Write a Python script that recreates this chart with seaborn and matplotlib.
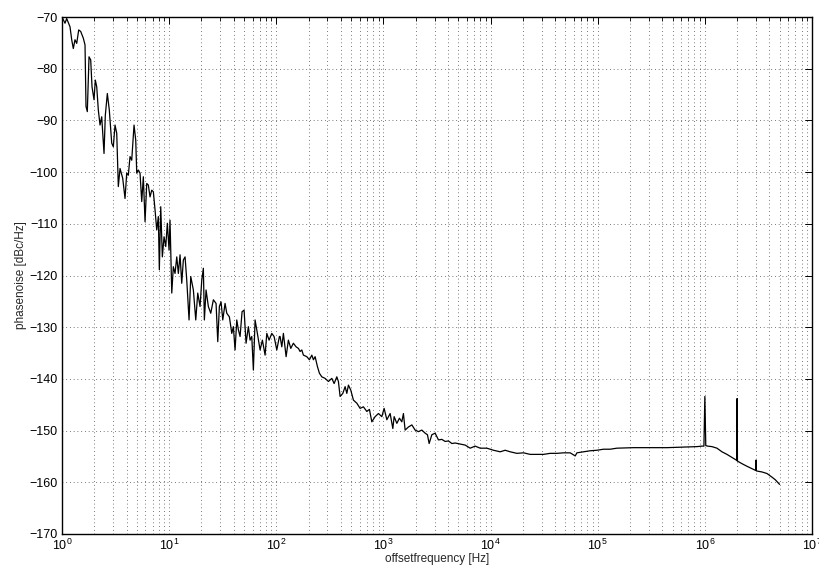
import numpy as np
import pandas as pd
import matplotlib
matplotlib.use("Agg")
import matplotlib.pyplot as plt
import seaborn as sns
from matplotlib.ticker import LogLocator, MultipleLocator, NullFormatter

# =========================
# Data
# =========================

# close-in part, 1 Hz .. ~110 Hz
freq_close = [1.0, 1.067, 1.106, 1.188, 1.232, 1.275, 1.322, 1.372, 1.432, 1.495,
              1.581, 1.640, 1.675, 1.723, 1.787, 1.853, 1.906, 1.990, 2.046, 2.109,
              2.183, 2.264, 2.348, 2.467, 2.537, 2.649, 2.764, 2.911, 3.013, 3.125,
              3.242, 3.355, 3.480, 3.687, 3.875, 4.019, 4.159, 4.314, 4.475, 4.702,
              4.877, 4.983, 5.158, 5.349, 5.549, 5.743, 5.957, 6.178, 6.394, 6.632,
              6.879, 7.121, 7.385, 7.660, 7.929, 8.10, 8.348, 8.64, 8.962, 9.296,
              9.62, 9.98, 10.19, 10.58, 10.94, 11.35, 11.78, 12.19, 12.64, 13.11,
              13.57, 14.08, 14.60, 15.34, 15.91, 16.83, 17.72, 18.49, 19.43, 20.16,
              20.86, 21.32, 22.11, 23.23, 24.46, 25.87, 27.41, 28.43, 29.43, 30.52,
              31.66, 33.27, 34.51, 36.49, 38.42, 39.76, 41.24, 42.78, 44.28, 45.92,
              47.94, 50.04, 52.24, 54.89, 56.93, 59.05, 61.12, 63.40, 66.61, 70.59,
              74.19, 78.62, 81.55, 85.67, 90.78, 95.39, 101.1, 106.9]
pn_close = [-70.0, -71.2, -70.3, -71.9, -74.4, -76.1, -74.4, -75.1, -72.5, -72.8,
            -74.1, -75.4, -87.3, -88.3, -77.7, -78.3, -83.5, -86.0, -82.2, -83.5,
            -88.0, -90.9, -89.3, -96.4, -89.0, -84.8, -88.0, -94.4, -95.1, -90.9,
            -92.5, -102.8, -99.3, -101.2, -105.1, -100.2, -100.6, -97.0, -97.7, -90.9,
            -93.8, -100.2, -99.6, -100.2, -105.7, -100.9, -109.6, -102.2, -102.5, -104.8,
            -103.5, -103.8, -107.3, -111.2, -108.6, -118.9, -106.7, -116.4, -112.5, -114.4,
            -109.9, -115.1, -109.3, -123.4, -118.3, -119.6, -116.4, -119.6, -116.0, -121.5,
            -117.0, -116.4, -120.9, -128.6, -120.2, -122.8, -128.6, -123.4, -126.0, -120.9,
            -118.6, -128.6, -122.8, -126.0, -127.3, -124.7, -125.4, -132.8, -126.0, -125.1,
            -128.6, -125.4, -127.3, -128.0, -131.2, -129.9, -134.4, -128.6, -130.5, -131.8,
            -127.0, -126.7, -133.1, -129.9, -132.5, -131.8, -138.3, -128.6, -131.2, -134.4,
            -132.5, -135.4, -131.2, -132.5, -131.2, -131.8, -134.4, -131.8]

# mid part, ~110 Hz .. 100 kHz
freq_mid = [108.5, 112.6, 116.5, 123.5, 129.7, 136.6, 144.4, 153.1, 160.9, 166.8,
            173.0, 179.1, 192.7, 203.8, 214.6, 222.1, 230.4, 242.0, 252.6, 266.0,
            285.5, 306.6, 329.8, 346.5, 367.2, 380.0, 394.2, 417.8, 439.0, 455.3,
            471.3, 496.2, 524.7, 564.4, 605.9, 650.6, 699.8, 740.0, 779.2, 836.5,
            898.3, 966.1, 1015, 1076, 1155, 1224, 1259, 1334, 1411, 1485,
            1537, 1594, 1712, 1842, 1977, 2123, 2283, 2452, 2575, 2671,
            2831, 3039, 3262, 3510, 3768, 4045, 4352, 4672, 5203, 5791,
            6449, 7182, 7998, 9236, 10644, 12291, 13689, 15241, 17605, 20289,
            23429, 27060, 31180, 36020, 41590, 47940, 55370, 61650, 63940, 73690,
            85110, 98290]
pn_mid = [-131.8, -133.8, -131.2, -135.7, -132.5, -134.1, -133.1, -133.8, -134.1, -134.7,
          -134.4, -135.4, -135.7, -136.3, -135.4, -136.3, -135.7, -137.6, -138.9, -139.6,
          -139.9, -140.5, -139.9, -140.9, -139.6, -140.5, -143.4, -142.8, -141.5, -142.8,
          -141.2, -142.2, -144.1, -144.7, -145.7, -145.4, -146.3, -145.9, -148.3, -147.3,
          -146.7, -147.3, -145.7, -147.9, -146.7, -149.6, -147.3, -148.6, -147.6, -148.3,
          -146.7, -149.9, -149.3, -148.9, -149.9, -150.2, -149.9, -150.5, -150.8, -152.5,
          -150.8, -150.5, -151.8, -151.7, -152.1, -152.0, -152.5, -152.4, -152.6, -152.8,
          -153.4, -153.0, -153.4, -153.4, -153.8, -154.1, -153.8, -154.1, -154.4, -154.3,
          -154.6, -154.6, -154.6, -154.4, -154.4, -154.3, -154.3, -154.9, -154.3, -154.1,
          -153.9, -153.8]

# far part, 100 kHz .. 5 MHz (with spurs at 1, 2 and 3 MHz)
freq_far = [113300, 130800, 151100, 216000, 309200, 442700, 632600, 843700, 939500, 980000,
            1000000, 1020000, 1060000, 1165000, 1297000, 1444000, 1608000, 1791000, 1965000, 1985000,
            2000000, 2015000, 2221000, 2473000, 2849000, 2975000, 3000000, 3025000, 3413000, 3800000,
            4230000, 4540000, 4980000]
pn_far = [-153.6, -153.6, -153.4, -153.3, -153.3, -153.3, -153.2, -153.1, -153.0, -153.0,
          -143.4, -152.9, -153.0, -153.1, -153.4, -154.1, -154.6, -155.2, -155.7, -155.8,
          -143.8, -155.9, -156.4, -156.9, -157.5, -157.7, -155.7, -157.8, -158.0, -158.3,
          -159.0, -159.5, -160.4]

df = pd.DataFrame({
    "freq": freq_close + freq_mid + freq_far,
    "pn": pn_close + pn_mid + pn_far,
})

# =========================
# Plot
# =========================
sns.set_theme(style="white")
plt.rcParams["font.family"] = ["Liberation Sans", "DejaVu Sans"]
plt.rcParams["xtick.direction"] = "in"
plt.rcParams["ytick.direction"] = "in"

fig = plt.figure(figsize=(8.19, 5.72), dpi=100)
ax = fig.add_axes([62 / 819, 1 - 534 / 572, 750 / 819, 517 / 572])

sns.lineplot(data=df, x="freq", y="pn", color="black", linewidth=0.9,
             estimator=None, sort=False, ax=ax)

ax.set_xscale("log")
ax.set_xlim(1, 1e7)
ax.set_ylim(-170, -70)
ax.yaxis.set_major_locator(MultipleLocator(10))
ax.xaxis.set_major_locator(LogLocator(base=10, numticks=20))
ax.xaxis.set_minor_locator(LogLocator(base=10, subs=np.arange(2, 10), numticks=100))
ax.xaxis.set_minor_formatter(NullFormatter())

ax.grid(True, which="major", color="0.3", linestyle=(0, (1, 3.5)), linewidth=0.6)
ax.grid(True, which="minor", axis="x", color="0.3", linestyle=(0, (1, 3.5)), linewidth=0.6)
ax.set_axisbelow(True)

ax.tick_params(which="both", top=True, right=True, labelsize=9, colors="black", pad=3)
ax.tick_params(which="major", length=5, width=0.7)
ax.tick_params(which="minor", length=3, width=0.6)
for s in ax.spines.values():
    s.set_color("black")
    s.set_linewidth(1.0)

ax.set_xlabel("offsetfrequency [Hz]", fontsize=8.5, labelpad=0)
ax.set_ylabel("phasenoise [dBc/Hz]", fontsize=8.5, labelpad=2)

fig.savefig("out.png", dpi=100, facecolor="white")
